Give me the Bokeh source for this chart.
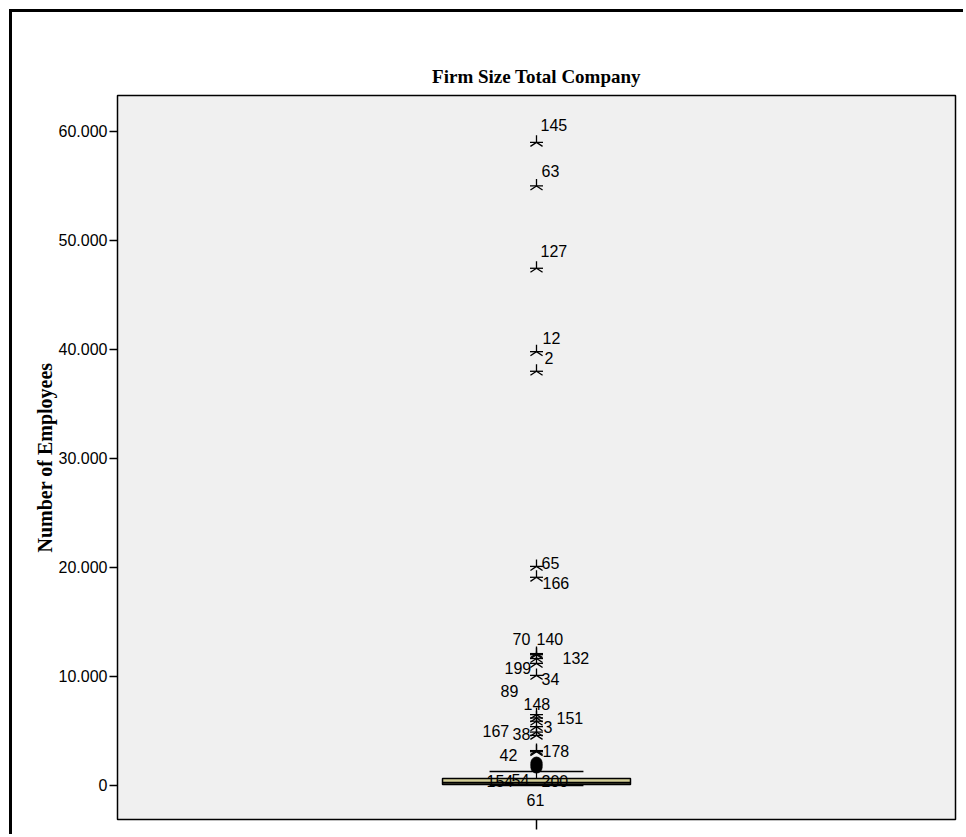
import math
from bokeh.plotting import figure
from bokeh.models import Range1d, FixedTicker, CustomJSTickFormatter, ColumnDataSource
from bokeh.core.properties import value
from bokeh.embed import file_html
from bokeh.resources import INLINE

# ---- data ----
title_text = "Firm Size Total Company"
y_label = "Number of Employees"
y_ticks = [0, 10000, 20000, 30000, 40000, 50000, 60000]

# box statistics
box_q1 = 100
box_median = 250
box_q3 = 640
whisker_low = 0
whisker_high = 1280

# extreme values (stars)
extreme_ids = ["145", "63", "127", "12", "2", "65", "166", "140", "70", "132", "199", "34",
               "89", "148", "151", "3", "38", "167", "178", "42"]
extreme_values = [59000, 55000, 47450, 39800, 38000, 20100, 19100, 12100, 12000, 11650, 11200, 10100,
                  6500, 6200, 5900, 5400, 4900, 4600, 3200, 3100]

# outliers (circles)
outlier_ids = ["154", "54", "200", "61"]
outlier_values = [2100, 1950, 1800, 1650]

# label placement (pixels, relative to marker)
extreme_dx = [4, 5, 4, 6, 8, 5, 6, 0, -24, 26, -32, 5, -36, -13, 20, 7, -24, -54, 6, -37]
extreme_dy = [-17, -15, -17, -14, -13, -3, 6, -15, -16, -1, 5, 4, -24, -14, -3, 0, 2, -4, 0, 3]
outlier_dx = [-50, -25, 5, -10]
outlier_dy = [18, 16, 15, 32]

# ---- figure ----
p = figure(width=954, height=825, output_backend="svg", toolbar_location=None,
           x_range=Range1d(-1, 1), y_range=Range1d(-3120, 63300),
           min_border_left=105, min_border_right=11, min_border_top=83, min_border_bottom=18,
           background_fill_color="#f0f0f0", border_fill_color="white")
p.styles = {"border-left": "3px solid black", "border-top": "3px solid black",
            "margin-left": "9px", "margin-top": "9px"}

p.title.text = title_text
p.title.align = "center"
p.title.text_font = "Liberation Serif"
p.title.text_font_style = "bold"
p.title.text_font_size = "19px"
p.title.text_color = "black"
p.title.standoff = 17

p.outline_line_color = "black"
p.outline_line_width = 1.5
p.xgrid.visible = False
p.ygrid.visible = False

# y axis
p.yaxis.ticker = FixedTicker(ticks=y_ticks)
p.yaxis.formatter = CustomJSTickFormatter(code="return tick.toFixed(0).replace(/\\B(?=(\\d{3})+(?!\\d))/g, '.');")
p.yaxis.axis_label = y_label
p.yaxis.axis_label_text_font = "Liberation Serif"
p.yaxis.axis_label_text_font_style = "bold"
p.yaxis.axis_label_text_font_size = "20px"
p.yaxis.axis_label_text_color = "black"
p.yaxis.axis_label_standoff = 0
p.yaxis.major_label_text_font = "Liberation Sans"
p.yaxis.major_label_text_font_size = "16px"
p.yaxis.major_label_text_color = "black"
p.yaxis.major_label_standoff = 2
p.yaxis.major_tick_out = 8
p.yaxis.major_tick_in = 0
p.yaxis.minor_tick_line_color = None
p.yaxis.axis_line_color = "black"
p.yaxis.major_tick_line_color = "black"
p.yaxis.major_tick_line_width = 1.5

# x axis
p.xaxis.ticker = FixedTicker(ticks=[0])
p.xaxis.major_label_overrides = {0: ""}
p.xaxis.major_label_text_font_size = "0px"
p.xaxis.major_tick_out = 10
p.xaxis.major_tick_in = 0
p.xaxis.minor_tick_line_color = None
p.xaxis.axis_line_color = "black"
p.xaxis.major_tick_line_color = "black"
p.xaxis.major_tick_line_width = 1.5

box_half = 0.2243
cap_half = 0.112

# whiskers
p.segment(x0=[0, 0], y0=[box_q3, box_q1], x1=[0, 0], y1=[whisker_high, whisker_low],
          line_color="black", line_width=1.2)
p.segment(x0=[-cap_half, -cap_half], y0=[whisker_high, whisker_low],
          x1=[cap_half, cap_half], y1=[whisker_high, whisker_low],
          line_color="black", line_width=1.5)
# box
p.quad(left=[-box_half], right=[box_half], bottom=[box_q1], top=[box_q3],
       fill_color="#d3ce97", line_color="black", line_width=1.5)
p.segment(x0=[-box_half], y0=[box_median], x1=[box_half], y1=[box_median],
          line_color="black", line_width=2)

# outliers
osrc = ColumnDataSource(dict(x=[0] * len(outlier_values), y=outlier_values, label=outlier_ids,
                             dx=outlier_dx, dy=outlier_dy))
p.scatter(x="x", y="y", source=osrc, marker="circle", size=11,
          fill_color="black", line_color="black")

# extremes: five-armed asterisk built from an inverted "y" and a "dash" marker
esrc = ColumnDataSource(dict(x=[0] * len(extreme_values), y=extreme_values, label=extreme_ids,
                             dx=extreme_dx, dy=extreme_dy))
p.scatter(x="x", y="y", source=esrc, marker="y", size=14, angle=math.pi,
          line_color="black", line_width=1.3)
p.scatter(x="x", y="y", source=esrc, marker="dash", size=13,
          line_color="black", line_width=1.3)

for src in (esrc, osrc):
    p.text(x="x", y="y", text="label", source=src, x_offset="dx", y_offset="dy",
           text_font=value("Liberation Sans"), text_font_size="16px", text_color="black",
           text_align="left", text_baseline="middle")

open("out.html", "w").write(file_html(p, INLINE))
